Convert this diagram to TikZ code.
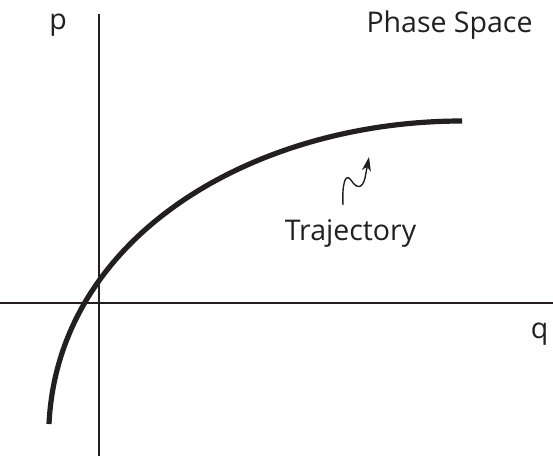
\documentclass[tikz,border=0pt]{standalone}
\usepackage{fontspec}
\setmainfont{Open Sans}
\usetikzlibrary{arrows.meta}
\definecolor{ink}{HTML}{231F20}
\begin{document}
\begin{tikzpicture}[x=1pt,y=-1pt,
  axis/.style={draw=ink,line width=1.1pt},
  traj/.style={draw=ink,line width=5.2pt},
  pointer/.style={draw=ink,line width=1.4pt,-{Stealth[length=14pt,width=9pt,inset=4pt]}},
  lab/.style={text=ink,font=\fontsize{28.5}{30}\selectfont,inner sep=0pt,anchor=base}]
\useasboundingbox (0,0) rectangle (553,456);
\fill[white] (0,0) rectangle (553,456);
\coordinate (ytop) at (99,14);
\coordinate (ybot) at (99,456);
\coordinate (xl) at (0,303);
\coordinate (xr) at (553,303);
\draw[axis] (ytop) -- (ybot);
\draw[axis] (xl) -- (xr);
\coordinate (c0) at (49,424);
\coordinate (c1) at (462,121);
\draw[traj] (c0) .. controls (58,235) and (255,121) .. (c1);
\node[lab] (p) at (58,29) {p};
\node[lab] (q) at (539.5,338) {q};
\node[lab] (ps) at (449.5,32) {Phase Space};
\node[lab] (tr) at (350.5,240) {Trajectory};
\coordinate (s0) at (343,205);
\coordinate (s1) at (369,157);
\draw[pointer] (s0) .. controls (342,185) and (345,172) .. (351,180)
  .. controls (356,188) and (362,190) .. (365,178) -- (s1);
\end{tikzpicture}
\end{document}
